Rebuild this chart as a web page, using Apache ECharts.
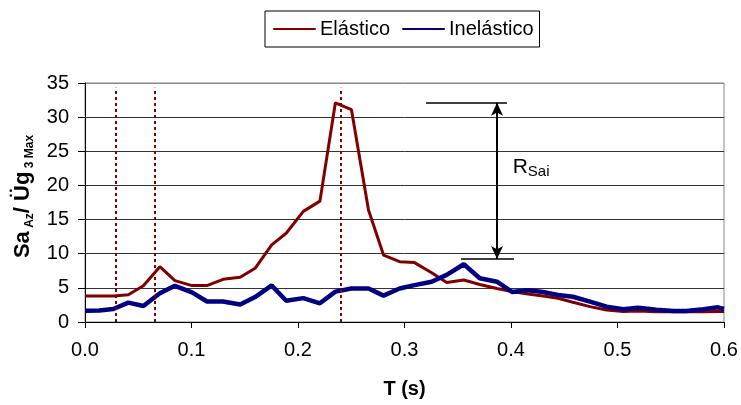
<!DOCTYPE html>
<html>
<head>
<meta charset="utf-8">
<script src="https://cdn.jsdelivr.net/npm/echarts@6/dist/echarts.min.js"></script>
<style>html,body{margin:0;padding:0;background:#fff}#c{width:741px;height:405px}</style>
</head>
<body>
<div id="c"></div>
<script>
const periods = [0, 0.0133, 0.0266, 0.0407, 0.0548, 0.0703, 0.0844, 0.1005, 0.1145, 0.1296, 0.1457, 0.1597, 0.1753, 0.1889, 0.205, 0.2206, 0.2351, 0.2502, 0.2662, 0.2803, 0.2954, 0.3094, 0.3255, 0.3396, 0.3557, 0.3707, 0.3868, 0.4009, 0.4159, 0.43, 0.4441, 0.4581, 0.4742, 0.4898, 0.5054, 0.5194, 0.5365, 0.5526, 0.5646, 0.5807, 0.5944, 0.6];
const elastico = [3.8,3.8,3.8,4.0,5.3,8.1,6.06,5.33,5.33,6.25,6.55,7.87,11.3,13.0,16.2,17.7,32.1,31.1,16.4,9.8,8.84,8.7,7.2,5.8,6.16,5.5,4.9,4.45,4.1,3.8,3.47,2.9,2.25,1.76,1.55,1.6,1.5,1.5,1.5,1.5,1.55,1.55];
const inelastico = [1.65,1.7,1.9,2.83,2.35,4.2,5.3,4.35,3.0,3.0,2.55,3.65,5.35,3.1,3.5,2.74,4.45,4.9,4.9,3.86,4.9,5.4,5.9,6.9,8.46,6.4,5.9,4.4,4.65,4.4,3.96,3.7,2.98,2.25,1.86,2.1,1.8,1.6,1.6,1.86,2.15,1.9];
const seriesNames = ['Elástico', 'Inelástico'];
const dottedT = [0.0291, 0.0657, 0.2404];
const dottedTop = 34.3;
const rsaiUpper = {y: 32.1, x1: 0.3202, x2: 0.3962};
const rsaiLower = {y: 9.24, x1: 0.353, x2: 0.4028};
const rsaiArrowT = 0.3869;
const rsaiLabelPos = [0.4016, 22.6];

const FONT = 'Liberation Sans';
const pair = (xs, ys) => xs.map((x, i) => [x, ys[i]]);

const markLines = [];
dottedT.forEach(t => {
  markLines.push([
    {coord: [t, 0], symbol: 'none', lineStyle: {color: '#800000', width: 2, type: [3, 3]}},
    {coord: [t, dottedTop], symbol: 'none'}
  ]);
});
markLines.push([
  {coord: [rsaiUpper.x1, rsaiUpper.y], symbol: 'none', lineStyle: {color: '#000', width: 1.5, type: 'solid'}},
  {coord: [rsaiUpper.x2, rsaiUpper.y], symbol: 'none'}
]);
markLines.push([
  {coord: [rsaiLower.x1, rsaiLower.y], symbol: 'none', lineStyle: {color: '#000', width: 1.5, type: 'solid'}},
  {coord: [rsaiLower.x2, rsaiLower.y], symbol: 'none'}
]);
markLines.push([
  {coord: [rsaiArrowT, rsaiUpper.y], symbol: 'arrow', symbolSize: [9, 13], lineStyle: {color: '#000', width: 2, type: 'solid'}},
  {coord: [rsaiArrowT, rsaiLower.y], symbol: 'arrow', symbolSize: [9, 13]}
]);

const chart = echarts.init(document.getElementById('c'));
chart.setOption({
  animation: false,
  backgroundColor: '#fff',
  textStyle: {fontFamily: FONT},
  legend: {
    data: seriesNames,
    left: 265, top: 11,
    padding: [8, 6, 8, 8],
    itemGap: 12,
    itemWidth: 41, itemHeight: 14,
    itemStyle: {opacity: 0},
    lineStyle: {cap: 'round'},
    borderColor: '#000', borderWidth: 1,
    textStyle: {fontFamily: FONT, fontSize: 20, color: '#000'}
  },
  grid: {left: 85, right: 17, top: 83, bottom: 83, show: true, borderColor: '#888', borderWidth: 1},
  xAxis: {
    type: 'value', min: 0, max: 0.6, interval: 0.1,
    name: 'T (s)', nameLocation: 'middle', nameGap: 57,
    nameTextStyle: {fontFamily: FONT, fontSize: 20, fontWeight: 'bold', color: '#000'},
    axisLine: {lineStyle: {color: '#000', width: 1}},
    axisTick: {show: true, inside: false, length: 6, lineStyle: {color: '#000'}},
    axisLabel: {formatter: v => v.toFixed(1), fontFamily: FONT, fontSize: 20, color: '#000', margin: 18},
    splitLine: {show: false}
  },
  yAxis: {
    type: 'value', min: 0, max: 35, interval: 5,
    name: '{p|}{a|Sa}{b| Az}{a|/ Üg}{b| 3 Max}', nameLocation: 'middle', nameGap: 45,
    nameTextStyle: {
      color: '#000',
      rich: {
        p: {width: 12, fontSize: 10},
        a: {fontFamily: FONT, fontSize: 22, fontWeight: 'bold', color: '#000', lineHeight: 26},
        b: {fontFamily: FONT, fontSize: 12, fontWeight: 'bold', color: '#000', lineHeight: 15, verticalAlign: 'bottom'}
      }
    },
    axisLine: {show: true, lineStyle: {color: '#000', width: 1}},
    axisTick: {show: true, inside: false, length: 7, lineStyle: {color: '#000'}},
    axisLabel: {fontFamily: FONT, fontSize: 20, color: '#000', margin: 16},
    splitLine: {show: true, lineStyle: {color: ['#000', '#333', '#333', '#333', '#333', '#333', '#333', '#888'], width: 1}}
  },
  series: [
    {
      name: seriesNames[0], type: 'line', data: pair(periods, elastico),
      symbol: 'none', showSymbol: false, smooth: false,
      lineStyle: {color: '#800000', width: 3}, itemStyle: {color: '#800000'},
      z: 2,
      markLine: {silent: true, symbol: ['none', 'none'], label: {show: false}, data: markLines},
      markPoint: {
        silent: true,
        data: [{
          coord: rsaiLabelPos, symbol: 'circle', symbolSize: 0,
          label: {
            show: true, position: 'right', distance: 0,
            formatter: '{r|R}{s|Sai}',
            rich: {
              r: {fontFamily: FONT, fontSize: 21, color: '#000', lineHeight: 24},
              s: {fontFamily: FONT, fontSize: 15, color: '#000', lineHeight: 16, verticalAlign: 'bottom'}
            }
          }
        }]
      }
    },
    {
      name: seriesNames[1], type: 'line', data: pair(periods, inelastico),
      symbol: 'none', showSymbol: false, smooth: false,
      lineStyle: {color: '#000080', width: 4.5}, itemStyle: {color: '#000080'},
      z: 3
    }
  ]
});
</script>
</body>
</html>
